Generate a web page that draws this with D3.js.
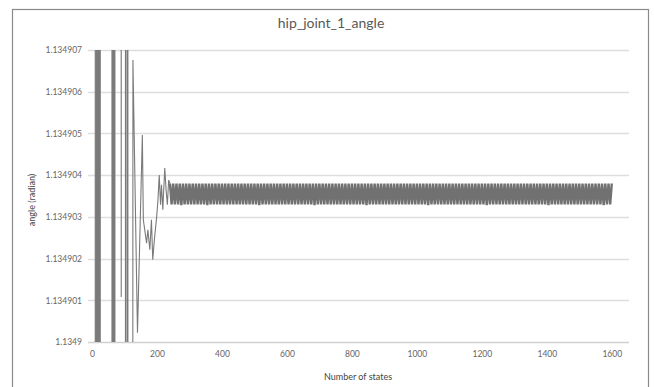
<!DOCTYPE html>
<html><head><meta charset="utf-8">
<script src="https://cdn.jsdelivr.net/npm/d3@7"></script>
<style>body{margin:0;background:#fff}svg{display:block}text{font-family:Lato,"Open Sans",sans-serif;fill:#595959}</style>
</head><body><svg id="c" width="654" height="387"></svg>
<script>
const title = "hip_joint_1_angle";
const xTitle = "Number  of states";
const yTitle = "angle (radian)";
const xTickValues = [0,200,400,600,800,1000,1200,1400,1600];
const yTickValues = [1.1349,1.134901,1.134902,1.134903,1.134904,1.134905,1.134906,1.134907];
const yTickLabels = ["1.1349","1.134901","1.134902","1.134903","1.134904","1.134905","1.134906","1.134907"];

// transient part (states, values); off-chart values are clipped as in the original
const earlyStates = [0,8,12,15,18,21,24,27,60,63,66,69,72,84,90,94,100,106,109,112,126,140,155,158,168,172,178,183,187,192,199,203,207,211,214,218,224,228,232,236];
const earlyValues = [1.1352,1.1352,1.1346,1.1352,1.1346,1.1352,1.1346,1.1352,
  1.1352,1.1346,1.1352,1.1346,1.1352,
  1.1352,1.13490108,1.1352,1.1352,1.1346,1.1352,1.1346,
  1.13490676,1.13490022,1.13490496,1.13490293,1.13490237,1.13490269,1.13490221,1.13490293,1.13490197,1.13490245,
  1.134903,1.1349034,1.134904,1.13490329,1.13490377,1.13490317,1.13490417,1.13490365,1.13490329,1.13490388];

// steady oscillation, states 240..1600
const bandStart = 240, bandEnd = 1600;
const bandValues = [
1.1349038,1.1349033,1.1349038,1.1349033,1.1349038,1.1349033,1.1349038,1.13490328,1.1349038,1.1349033,
1.1349038,1.1349033,1.1349038,1.1349033,1.1349038,1.1349033,1.1349038,1.1349033,1.1349038,1.1349033,
1.1349038,1.1349033,1.1349038,1.13490328,1.1349038,1.1349033,1.1349038,1.1349033,1.1349038,1.1349033,
1.1349038,1.1349033,1.1349038,1.1349033,1.1349038,1.1349033,1.1349038,1.1349033,1.1349038,1.1349033,
1.1349038,1.1349033,1.1349038,1.1349033,1.1349038,1.1349033,1.1349038,1.1349033,1.1349038,1.1349033,
1.1349038,1.1349033,1.1349038,1.1349033,1.1349038,1.13490328,1.1349038,1.1349033,1.1349038,1.1349033,
1.1349038,1.1349033,1.1349038,1.1349033,1.1349038,1.1349033,1.1349038,1.1349033,1.1349038,1.1349033,
1.1349038,1.1349033,1.1349038,1.1349033,1.1349038,1.1349033,1.1349038,1.1349033,1.1349038,1.1349033,
1.1349038,1.1349033,1.1349038,1.1349033,1.1349038,1.1349033,1.1349038,1.1349033,1.1349038,1.13490328,
1.1349038,1.1349033,1.1349038,1.1349033,1.1349038,1.1349033,1.1349038,1.1349033,1.1349038,1.1349033,
1.1349038,1.1349033,1.1349038,1.1349033,1.1349038,1.1349033,1.1349038,1.1349033,1.1349038,1.1349033,
1.1349038,1.1349033,1.1349038,1.1349033,1.1349038,1.1349033,1.1349038,1.1349033,1.1349038,1.1349033,
1.1349038,1.13490328,1.1349038,1.1349033,1.1349038,1.1349033,1.1349038,1.1349033,1.1349038,1.1349033,
1.1349038,1.1349033,1.1349038,1.1349033,1.1349038,1.1349033,1.1349038,1.1349033,1.1349038,1.1349033,
1.1349038,1.1349033,1.1349038,1.1349033,1.1349038,1.1349033,1.1349038,1.1349033,1.1349038,1.1349033,
1.1349038,1.1349033,1.1349038,1.1349033,1.1349038,1.1349033,1.1349038,1.1349033,1.1349038,1.13490328,
1.1349038,1.1349033,1.1349038,1.1349033,1.1349038,1.1349033,1.1349038,1.1349033,1.1349038,1.1349033,
1.1349038,1.1349033,1.1349038,1.1349033,1.1349038,1.1349033,1.1349038,1.1349033,1.1349038,1.1349033,
1.1349038,1.1349033,1.1349038,1.1349033,1.1349038,1.1349033,1.1349038,1.1349033,1.1349038,1.1349033,
1.1349038,1.1349033,1.1349038,1.1349033,1.1349038,1.13490328,1.1349038,1.1349033,1.1349038,1.1349033,
1.1349038,1.1349033,1.1349038,1.1349033,1.1349038,1.1349033,1.1349038,1.1349033,1.1349038,1.1349033,
1.1349038,1.1349033,1.1349038,1.1349033,1.1349038,1.1349033,1.1349038,1.1349033,1.1349038,1.1349033,
1.1349038,1.1349033,1.1349038,1.1349033,1.1349038,1.1349033,1.1349038,1.1349033,1.1349038,1.1349033,
1.1349038,1.1349033,1.1349038,1.13490328,1.1349038,1.1349033,1.1349038,1.1349033,1.1349038,1.1349033,
1.1349038,1.1349033,1.1349038,1.1349033,1.1349038,1.1349033,1.1349038,1.1349033,1.1349038,1.1349033,
1.1349038,1.1349033,1.1349038,1.1349033,1.1349038,1.1349033,1.1349038,1.1349033,1.1349038,1.1349033,
1.1349038,1.1349033,1.1349038,1.1349033,1.1349038,1.1349033,1.1349038,1.13490328,1.1349038,1.1349033,
1.1349038,1.1349033,1.1349038
];

const svg = d3.select("#c");
const L = 88, R = 629, T = 50, B = 342;
const x = d3.scaleLinear().domain([0, 1653]).range([92, 629]);
const y = d3.scaleLinear().domain([1.1349, 1.134907]).range([B, T]);

// frame
svg.append("rect").attr("x", 12.5).attr("y", 9.5).attr("width", 636).attr("height", 390)
  .attr("fill", "none").attr("stroke", "#8a8a8a").attr("stroke-width", 1.2);

// title
svg.append("text").attr("x", 331).attr("y", 28).attr("text-anchor", "middle")
  .style("font-size", "14px").text(title);

// gridlines
svg.append("g").selectAll("line").data(yTickValues).join("line")
  .attr("x1", L).attr("x2", R)
  .attr("y1", d => Math.round(y(d)) + 0.5).attr("y2", d => Math.round(y(d)) + 0.5)
  .attr("stroke", d => d === yTickValues[0] ? "#d0d0d0" : "#dedede").attr("stroke-width", 1.3);

// y axis labels
const yAxis = d3.axisLeft(y).tickValues(yTickValues).tickSize(0).tickPadding(0)
  .tickFormat((d, i) => yTickLabels[i]);
const gy = svg.append("g").attr("transform", `translate(82,0)`).call(yAxis);
gy.select(".domain").remove();
gy.selectAll("text").style("font-size", "8.5px").style("fill", "#666");

// x axis labels
const xAxis = d3.axisBottom(x).tickValues(xTickValues).tickSize(0).tickPadding(0).tickFormat(d => String(d));
const gx = svg.append("g").attr("transform", `translate(0,351)`).call(xAxis);
gx.select(".domain").remove();
gx.selectAll("text").style("font-size", "8.5px").style("fill", "#666");

// axis titles
svg.append("text").attr("x", 358).attr("y", 380).attr("text-anchor", "middle")
  .style("font-size", "9px").style("fill", "#444").text(xTitle);
svg.append("text").attr("transform", "translate(35,200) rotate(-90)").attr("text-anchor", "middle")
  .style("font-size", "9px").style("fill", "#444").text(yTitle);

// data
const n = bandValues.length;
const early = earlyStates.map((s, i) => [s, earlyValues[i]]);
const band = bandValues.map((v, i) => [bandStart + i * (bandEnd - bandStart) / (n - 1), v]);

svg.append("clipPath").attr("id", "clip").append("rect")
  .attr("x", L).attr("y", T).attr("width", R - L).attr("height", B - T);

const line = d3.line().x(d => x(d[0])).y(d => y(d[1]));
svg.append("path").datum(early.concat([band[0]])).attr("clip-path", "url(#clip)")
  .attr("d", line).attr("fill", "none").attr("stroke", "#7a7a7a").attr("stroke-width", 1.1)
  .attr("stroke-linejoin", "bevel");
svg.append("path").datum(band).attr("clip-path", "url(#clip)")
  .attr("d", line).attr("fill", "none").attr("stroke", "#717171").attr("stroke-width", 2.4)
  .attr("stroke-linejoin", "bevel");
</script></body></html>
